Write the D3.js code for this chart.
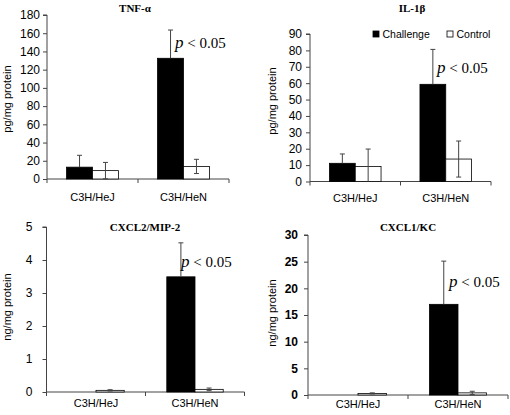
<!DOCTYPE html>
<html>
<head>
<meta charset="utf-8">
<script src="https://cdn.jsdelivr.net/npm/d3@7"></script>
<style>
  html, body { margin: 0; padding: 0; background: #fff; }
  svg { display: block; }
</style>
</head>
<body>
<svg id="chart" width="510" height="415"></svg>
<script>
// ---------- DATA ----------
const categories = ["C3H/HeJ", "C3H/HeN"];
const seriesNames = ["Challenge", "Control"];

const panelTitles = ["TNF-α", "IL-1β", "CXCL2/MIP-2", "CXCL1/KC"];
const yAxisTitles = ["pg/mg protein", "pg/mg protein", "ng/mg protein", "ng/mg protein"];
const yMaxValues = [180, 90, 5, 30];
const yTickSteps = [20, 10, 1, 5];
const pValueLabel = "< 0.05";

const tnfChallenge = [13.0, 132.5];
const tnfChallengeErr = [13.0, 31.0];
const tnfControl = [9.2, 13.8];
const tnfControlErr = [9.0, 7.8];

const il1bChallenge = [11.1, 59.3];
const il1bChallengeErr = [5.7, 21.3];
const il1bControl = [9.1, 13.7];
const il1bControlErr = [10.7, 11.0];

const cxcl2Challenge = [0.0, 3.49];
const cxcl2ChallengeErr = [0.0, 1.03];
const cxcl2Control = [0.05, 0.08];
const cxcl2ControlErr = [0.02, 0.04];

const cxcl1Challenge = [0.0, 17.0];
const cxcl1ChallengeErr = [0.0, 8.1];
const cxcl1Control = [0.3, 0.4];
const cxcl1ControlErr = [0.1, 0.3];

const seriesByPanel = [
  [[tnfChallenge, tnfChallengeErr], [tnfControl, tnfControlErr]],
  [[il1bChallenge, il1bChallengeErr], [il1bControl, il1bControlErr]],
  [[cxcl2Challenge, cxcl2ChallengeErr], [cxcl2Control, cxcl2ControlErr]],
  [[cxcl1Challenge, cxcl1ChallengeErr], [cxcl1Control, cxcl1ControlErr]]
];

// ---------- LAYOUT ----------
const layouts = [
  { x0: 47,  x1: 229, yTop: 15,  yBot: 179, titleX: 135, titleY: 12,  yTitleX: 7,   yTitleY: 99,  labGap: 7,  xLabY: 201, pX: 175, pY: 48,  boldTicks: false },
  { x0: 310, x1: 491, yTop: 34,  yBot: 181.5, titleX: 412, titleY: 12, yTitleX: 272, yTitleY: 101, labGap: 8, xLabY: 202, pX: 437, pY: 73,  boldTicks: false, legend: true },
  { x0: 46.5, x1: 244.5, yTop: 227, yBot: 392, titleX: 145, titleY: 231, yTitleX: 7, yTitleY: 307, labGap: 14, xLabY: 407, pX: 181, pY: 267, boldTicks: false },
  { x0: 308, x1: 508, yTop: 235, yBot: 395, titleX: 408, titleY: 231, yTitleX: 272, yTitleY: 313, labGap: 10, xLabY: 408, pX: 449, pY: 287, boldTicks: true }
];

const sans = "'Liberation Sans', Arial, sans-serif";
const serif = "'Liberation Serif', 'Times New Roman', serif";
const axisColor = "#444";

const svg = d3.select("#chart");

layouts.forEach((L, pi) => {
  const g = svg.append("g");
  const x0 = d3.scaleBand().domain(categories).range([L.x0, L.x1]).padding(0);
  const bw = x0.bandwidth();
  const gap = bw * 0.215;
  const x1 = d3.scaleBand().domain(seriesNames).range([gap, bw - gap]).padding(0);
  const y = d3.scaleLinear().domain([0, yMaxValues[pi]]).range([L.yBot, L.yTop]);
  const ticks = d3.range(0, yMaxValues[pi] + yTickSteps[pi] / 2, yTickSteps[pi]);

  // y axis
  const yAxis = d3.axisLeft(y).tickValues(ticks).tickSize(4).tickPadding(L.labGap - 4).tickFormat(d3.format("d"));
  const ya = g.append("g").attr("transform", `translate(${L.x0},0)`).call(yAxis);
  ya.select(".domain").attr("stroke", axisColor).attr("d", `M-4,${L.yTop}H0V${L.yBot}`);
  ya.selectAll(".tick line").attr("stroke", axisColor);
  ya.selectAll(".tick text").attr("font-family", sans).attr("font-size", 12)
    .attr("font-weight", L.boldTicks ? "bold" : "normal").attr("fill", "#000");

  // x axis line and ticks at category boundaries
  g.append("line").attr("x1", L.x0).attr("x2", L.x1).attr("y1", L.yBot).attr("y2", L.yBot)
    .attr("stroke", axisColor).attr("stroke-width", 1);
  const bounds = [x0(categories[0]), x0(categories[1]), x0(categories[1]) + bw];
  g.selectAll(".xtick").data(bounds).enter().append("line")
    .attr("x1", d => d).attr("x2", d => d).attr("y1", L.yBot).attr("y2", L.yBot + 4)
    .attr("stroke", axisColor);
  g.selectAll(".xlab").data(categories).enter().append("text")
    .attr("x", d => x0(d) + bw / 2).attr("y", L.xLabY)
    .attr("text-anchor", "middle").attr("font-family", sans).attr("font-size", 11)
    .text(d => d);

  // bars
  const rows = [];
  categories.forEach((c, ci) => {
    seriesNames.forEach((s, si) => {
      rows.push({ c, s, si, v: seriesByPanel[pi][si][0][ci], e: seriesByPanel[pi][si][1][ci] });
    });
  });
  g.selectAll(".bar").data(rows).enter().append("rect")
    .attr("x", d => x0(d.c) + x1(d.s))
    .attr("y", d => y(d.v))
    .attr("width", x1.bandwidth())
    .attr("height", d => y(0) - y(d.v))
    .attr("fill", d => d.si === 0 ? "#000" : "#fff")
    .attr("stroke", d => d.v > 0 ? "#000" : "none")
    .attr("stroke-width", 0.8);

  // error bars (lower half of black bars is hidden inside the black fill)
  const cx = d => x0(d.c) + x1(d.s) + x1.bandwidth() / 2;
  const lowVal = d => d.si === 0 ? d.v : Math.max(0, d.v - d.e);
  const eb = g.selectAll(".err").data(rows.filter(d => d.e > 0)).enter().append("g");
  eb.append("line")
    .attr("x1", cx).attr("x2", cx)
    .attr("y1", d => y(lowVal(d)))
    .attr("y2", d => y(d.v + d.e))
    .attr("stroke", "#444").attr("stroke-width", 1);
  eb.append("line")
    .attr("x1", d => cx(d) - 2.5).attr("x2", d => cx(d) + 2.5)
    .attr("y1", d => y(d.v + d.e)).attr("y2", d => y(d.v + d.e))
    .attr("stroke", "#444").attr("stroke-width", 1);
  eb.filter(d => d.si === 1 && d.v - d.e > 0).append("line")
    .attr("x1", d => cx(d) - 2.5).attr("x2", d => cx(d) + 2.5)
    .attr("y1", d => y(d.v - d.e)).attr("y2", d => y(d.v - d.e))
    .attr("stroke", "#444").attr("stroke-width", 1);

  // title
  g.append("text").attr("x", L.titleX).attr("y", L.titleY).attr("text-anchor", "middle")
    .attr("font-family", serif).attr("font-weight", "bold").attr("font-size", 11)
    .text(panelTitles[pi]);

  // y axis title
  g.append("text")
    .attr("transform", `translate(${L.yTitleX},${L.yTitleY}) rotate(-90)`)
    .attr("text-anchor", "middle").attr("dominant-baseline", "central")
    .attr("font-family", sans).attr("font-size", 11)
    .text(yAxisTitles[pi]);

  // p value annotation
  const pt = g.append("text").attr("x", L.pX).attr("y", L.pY)
    .attr("font-family", serif).attr("font-size", 15);
  pt.append("tspan").attr("font-style", "italic").attr("font-size", 17).text("p");
  pt.append("tspan").text(" " + pValueLabel);

  // legend
  if (L.legend) {
    const lg = g.append("g");
    const items = [{ s: seriesNames[0], x: 373, fill: "#000" }, { s: seriesNames[1], x: 447, fill: "#fff" }];
    items.forEach(it => {
      lg.append("rect").attr("x", it.x).attr("y", L.yTop - 3).attr("width", 6).attr("height", 6)
        .attr("fill", it.fill).attr("stroke", "#000").attr("stroke-width", 0.8);
      lg.append("text").attr("x", it.x + 9.5).attr("y", L.yTop + 4)
        .attr("font-family", sans).attr("font-size", 10.5).text(it.s);
    });
  }
});
</script>
</body>
</html>
